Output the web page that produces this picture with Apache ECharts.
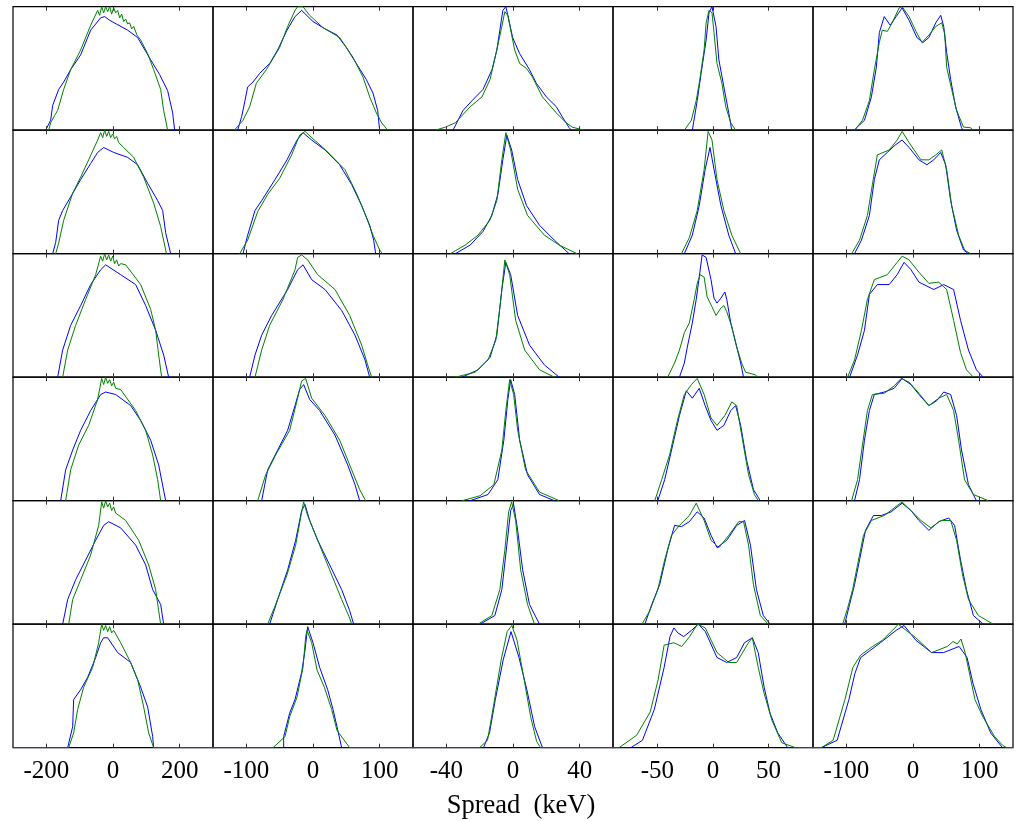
<!DOCTYPE html>
<html><head><meta charset="utf-8">
<script src="https://cdn.jsdelivr.net/npm/echarts@6/dist/echarts.min.js"></script>
<style>html,body{margin:0;padding:0;background:#fff}#c{width:1023px;height:821px}</style>
</head><body><div id="c"></div>
<script>
// ---- axis ranges and tick labels per column ----
const colRanges = [[-300,300],[-150,150],[-60,60],[-90,90],[-150,150]];
const colTicks = [[-200,0,200],[-100,0,100],[-40,0,40],[-50,0,50],[-100,0,100]];
const xTitle = 'Spread  (keV)';

// ---- column 1 ----
const b_r1c1 = [[-202,0],[-187,0.08],[-181,0.2],[-163,0.33],[-148,0.39],[-127,0.49],[-97,0.61],[-67,0.81],[-37,0.91],[-25,0.92],[-10,0.89],[10,0.86],[44,0.81],[74,0.75],[113,0.57],[140,0.45],[164,0.32],[179,0.14],[185,0]];
const g_r1c1 = [[-193,0],[-187,0.06],[-175,0.12],[-166,0.16],[-148,0.33],[-127,0.49],[-97,0.65],[-67,0.85],[-46,0.97],[-40,0.93],[-34,1.0],[-28,0.95],[-22,1.0],[-16,0.96],[-10,1.0],[-4,0.94],[2,0.99],[8,0.95],[14,0.97],[20,0.91],[26,0.94],[32,0.88],[38,0.9],[44,0.86],[50,0.87],[56,0.82],[62,0.84],[72,0.77],[83,0.73],[104,0.62],[122,0.49],[143,0.33],[152,0.16],[164,0]];
const b_r2c1 = [[-181,0],[-172,0.09],[-163,0.27],[-151,0.35],[-127,0.46],[-97,0.6],[-67,0.73],[-46,0.82],[-28,0.86],[2,0.82],[44,0.78],[74,0.72],[104,0.57],[134,0.43],[149,0.35],[158,0.17],[173,0]];
const g_r2c1 = [[-172,0],[-163,0.085],[-148,0.27],[-121,0.49],[-97,0.62],[-73,0.76],[-46,0.92],[-37,0.98],[-31,0.94],[-25,1.0],[-19,0.95],[-13,0.99],[-7,0.94],[-1,0.97],[5,0.93],[11,0.95],[17,0.9],[32,0.86],[62,0.78],[92,0.62],[122,0.41],[143,0.22],[158,0.03],[160,0]];
const b_r3c1 = [[-166,0],[-151,0.22],[-127,0.42],[-97,0.58],[-67,0.75],[-37,0.87],[-22,0.91],[23,0.83],[68,0.75],[98,0.58],[128,0.38],[152,0.18],[167,0]];
const g_r3c1 = [[-151,0],[-136,0.22],[-112,0.42],[-82,0.63],[-52,0.83],[-37,0.98],[-31,0.94],[-25,1.0],[-19,0.95],[-13,0.99],[-7,0.94],[-1,0.98],[5,0.92],[11,0.95],[17,0.9],[23,0.92],[38,0.91],[83,0.75],[113,0.55],[128,0.38],[137,0.18],[146,0]];
const b_r4c1 = [[-157,0],[-142,0.25],[-121,0.41],[-97,0.57],[-67,0.73],[-37,0.86],[-22,0.88],[8,0.86],[53,0.77],[83,0.65],[113,0.49],[137,0.29],[158,0]];
const g_r4c1 = [[-142,0],[-127,0.25],[-103,0.45],[-73,0.61],[-46,0.82],[-34,0.99],[-28,0.94],[-22,1.0],[-16,0.95],[-10,0.98],[-4,0.93],[2,0.96],[8,0.91],[23,0.9],[68,0.73],[98,0.57],[119,0.37],[134,0.17],[143,0]];
const b_r5c1 = [[-151,0],[-136,0.2],[-112,0.36],[-82,0.52],[-52,0.68],[-28,0.8],[-13,0.83],[23,0.78],[68,0.64],[98,0.48],[119,0.28],[143,0.16],[152,0]];
const g_r5c1 = [[-133,0],[-121,0.2],[-97,0.36],[-67,0.56],[-43,0.8],[-34,0.99],[-28,0.94],[-22,1.0],[-16,0.95],[-10,0.98],[-4,0.92],[2,0.95],[8,0.9],[38,0.84],[77,0.68],[107,0.48],[128,0.28],[137,0.11],[143,0]];
const b_r6c1 = [[-300,0],[-136,0],[-121,0.17],[-118,0.39],[-97,0.47],[-76,0.57],[-52,0.73],[-37,0.85],[-28,0.89],[-16,0.89],[14,0.77],[53,0.69],[83,0.49],[104,0.33],[119,0.09],[122,0],[300,0]];
const g_r6c1 = [[-300,0],[-133,0],[-118,0.12],[-106,0.31],[-88,0.49],[-61,0.65],[-43,0.85],[-34,1.0],[-28,0.95],[-22,0.99],[-16,0.94],[-10,0.98],[-4,0.93],[2,0.95],[23,0.85],[53,0.69],[74,0.55],[92,0.33],[107,0.12],[122,0],[300,0]];

// ---- column 2 ----
const b_r1c2 = [[-113,0],[-107,0.11],[-102,0.24],[-98,0.35],[-90,0.39],[-80,0.46],[-65,0.54],[-53,0.65],[-39,0.81],[-27,0.92],[-17,0.97],[0,0.88],[15,0.83],[36,0.77],[50,0.67],[65,0.54],[80,0.41],[90,0.3],[97,0.16],[100,0]];
const g_r1c2 = [[-118,0],[-105,0.08],[-95,0.19],[-85,0.38],[-70,0.49],[-50,0.67],[-38,0.84],[-27,0.97],[-23,1.0],[-15,1.0],[-5,0.93],[15,0.83],[40,0.75],[60,0.59],[75,0.43],[85,0.27],[95,0.14],[103,0.06],[112,0]];
const b_r2c2 = [[-105,0],[-98,0.15],[-87,0.35],[-77,0.43],[-57,0.6],[-39,0.76],[-24,0.92],[-15,0.98],[-2,0.92],[18,0.84],[40,0.72],[58,0.56],[73,0.39],[85,0.23],[91,0.11],[94,0]];
const g_r2c2 = [[-110,0],[-98,0.11],[-83,0.34],[-68,0.48],[-50,0.61],[-32,0.8],[-20,0.96],[-12,0.99],[-2,0.94],[19,0.84],[48,0.68],[66,0.48],[79,0.31],[90,0.15],[100,0.03],[104,0]];
const b_r3c2 = [[-95,0],[-87,0.18],[-77,0.34],[-62,0.5],[-38,0.71],[-23,0.87],[-15,0.91],[-2,0.79],[18,0.71],[43,0.54],[63,0.34],[78,0.14],[85,0]];
const g_r3c2 = [[-87,0],[-77,0.22],[-65,0.42],[-45,0.63],[-27,0.87],[-23,0.97],[-17,0.99],[-8,0.95],[7,0.83],[33,0.71],[55,0.5],[73,0.26],[82,0.1],[88,0]];
const b_r4c2 = [[-77,0],[-68,0.25],[-53,0.41],[-38,0.57],[-27,0.77],[-20,0.9],[-14,0.94],[-5,0.82],[10,0.73],[33,0.53],[52,0.29],[63,0.13],[70,0]];
const g_r4c2 = [[-83,0],[-71,0.21],[-56,0.37],[-35,0.57],[-24,0.81],[-17,0.97],[-11,0.99],[-2,0.83],[18,0.69],[40,0.49],[58,0.25],[70,0.09],[79,0]];
const b_r5c2 = [[-65,0],[-53,0.2],[-38,0.44],[-26,0.68],[-17,0.92],[-12,0.97],[-5,0.84],[7,0.68],[25,0.48],[43,0.28],[55,0.11],[61,0]];
const g_r5c2 = [[-68,0],[-56,0.16],[-39,0.4],[-26,0.64],[-18,0.88],[-14,0.99],[-8,0.88],[7,0.68],[25,0.44],[43,0.2],[55,0.05],[58,0]];
const b_r6c2 = [[-150,0],[-44,0],[-44,0.09],[-35,0.28],[-27,0.39],[-17,0.61],[-12,0.79],[-8,0.98],[0,0.85],[10,0.65],[22,0.47],[30,0.31],[36,0.17],[43,0],[150,0]];
const g_r6c2 = [[-150,0],[-60,0],[-42,0.09],[-35,0.25],[-24,0.41],[-15,0.65],[-11,0.9],[-9,0.95],[-2,0.85],[6,0.63],[17,0.49],[28,0.31],[36,0.14],[55,0],[150,0]];

// ---- column 3 ----
const b_r1c3 = [[-36,0],[-30,0.16],[-24.5,0.24],[-18,0.33],[-12.6,0.49],[-9.7,0.65],[-7.9,0.81],[-6.1,0.97],[-4.3,1.0],[-3.1,0.93],[-0.2,0.75],[4,0.62],[9.9,0.49],[14,0.38],[20,0.27],[26,0.19],[29.5,0.11],[33.7,0.02],[35,0]];
const g_r1c3 = [[-46.5,0],[-40.6,0.025],[-34.6,0.06],[-25.7,0.19],[-18.6,0.27],[-13.8,0.41],[-9.7,0.65],[-6.7,0.84],[-4.9,0.96],[-3.1,0.93],[1,0.65],[4,0.54],[8.1,0.5],[11.7,0.43],[17.6,0.27],[26,0.14],[31.9,0.06],[35.5,0.025],[42.6,0]];
const b_r2c3 = [[-34.6,0],[-25.7,0.07],[-18,0.18],[-12.7,0.31],[-9.1,0.48],[-6.1,0.76],[-3.7,0.96],[-0.8,0.84],[2.8,0.6],[8.1,0.39],[15.9,0.23],[24.8,0.11],[33.7,0]];
const g_r2c3 = [[-37.6,0],[-28.7,0.07],[-21,0.15],[-13.9,0.27],[-9.7,0.43],[-6.7,0.76],[-4.3,0.98],[-1.4,0.84],[2.8,0.52],[8.7,0.31],[18.8,0.15],[27.7,0.07],[38.4,0]];
const b_r3c3 = [[-30.5,0],[-21,0.06],[-13.8,0.16],[-9.7,0.34],[-6.7,0.71],[-4.3,0.93],[-1.4,0.83],[2.8,0.5],[9.9,0.26],[18.8,0.1],[27.7,0]];
const g_r3c3 = [[-34.6,0],[-22.8,0.04],[-15,0.14],[-10.3,0.3],[-7.3,0.63],[-4.9,0.95],[-2,0.83],[1.6,0.46],[7,0.22],[15.9,0.06],[24.8,0]];
const b_r4c3 = [[-25.7,0],[-15,0.05],[-9.1,0.17],[-5.5,0.49],[-3.1,0.82],[-1.4,0.98],[1,0.86],[4,0.49],[8.7,0.21],[15.9,0.05],[24.8,0]];
const g_r4c3 = [[-30.5,0],[-19.8,0.04],[-11.5,0.13],[-6.7,0.41],[-4.3,0.73],[-2,0.98],[0.4,0.86],[2.8,0.57],[7.5,0.25],[15.9,0.07],[27.7,0]];
const b_r5c3 = [[-19.8,0],[-10.9,0.07],[-6.7,0.28],[-3.7,0.64],[-1.4,0.92],[0.4,0.97],[2.8,0.76],[5.8,0.44],[9.9,0.16],[15.9,0]];
const g_r5c3 = [[-21,0],[-12.7,0.07],[-7.9,0.28],[-4.9,0.6],[-2.6,0.91],[-0.8,0.99],[1.6,0.84],[4.6,0.44],[8.7,0.16],[12.9,0]];
const b_r6c3 = [[-60,0],[-17.7,0],[-14.1,0.12],[-10.6,0.39],[-5.9,0.71],[-1.2,0.94],[3.6,0.73],[8.3,0.47],[13,0.17],[17.7,0],[60,0]];
const g_r6c3 = [[-60,0],[-20.1,0],[-15.3,0.06],[-11.8,0.33],[-7.1,0.71],[-3.5,0.94],[-0.7,0.99],[2.4,0.87],[7.1,0.52],[10.6,0.25],[14.2,0.05],[16.6,0],[60,0]];

// ---- column 4 ----
const b_r1c4 = [[-18.6,0],[-14.2,0.24],[-10.7,0.46],[-6.2,0.73],[-3.6,0.95],[-0.9,1.0],[2.7,0.84],[5.3,0.57],[9.8,0.35],[14.2,0.14],[16.9,0]];
const g_r1c4 = [[-25.8,0],[-19.5,0.08],[-15.1,0.24],[-12.4,0.38],[-8,0.65],[-6.2,0.87],[-3.6,0.97],[-0.9,0.95],[0.9,0.79],[3.6,0.54],[8,0.38],[11.5,0.19],[16,0.06],[20.4,0]];
const b_r2c4 = [[-25.8,0],[-18.6,0.15],[-12.4,0.39],[-7.1,0.68],[-2.7,0.86],[1.8,0.64],[7.1,0.39],[14.2,0.15],[20.4,0]];
const g_r2c4 = [[-28.4,0],[-21.3,0.13],[-14.2,0.35],[-8,0.68],[-4.4,0.99],[-0.9,0.92],[3.6,0.6],[9.8,0.35],[16.9,0.15],[24.9,0]];
const b_r3c4 = [[-30.2,0],[-25.8,0.115],[-23.1,0.245],[-18.6,0.44],[-15.1,0.63],[-12.4,0.81],[-9.8,0.99],[-6.2,0.97],[-1.8,0.79],[0.9,0.64],[3.6,0.6],[7.1,0.64],[10.7,0.69],[12.4,0.63],[16,0.44],[20.4,0.28],[24.9,0.115],[27.5,0]];
const g_r3c4 = [[-40.8,0],[-34.6,0.115],[-30.2,0.22],[-25.8,0.36],[-21.3,0.44],[-16.9,0.63],[-14.2,0.76],[-11.5,0.83],[-8,0.81],[-5.3,0.65],[-0.9,0.57],[2.7,0.5],[7.1,0.56],[9.8,0.58],[12.4,0.53],[16.9,0.41],[21.3,0.245],[25.8,0.115],[29.3,0.04],[38.2,0.02],[40,0]];
const b_r4c4 = [[-49.7,0],[-43.5,0.17],[-37.3,0.41],[-30.2,0.69],[-24,0.89],[-18.6,0.83],[-12.4,0.91],[-7.1,0.77],[-1.8,0.65],[3.6,0.57],[9.8,0.61],[16,0.73],[20.4,0.77],[24.9,0.61],[30.2,0.33],[36.4,0.09],[42.6,0]];
const g_r4c4 = [[-52.4,0],[-46.2,0.17],[-39.1,0.37],[-32,0.65],[-25.8,0.86],[-19.5,0.94],[-14.2,0.99],[-8,0.86],[-1.8,0.67],[3.6,0.61],[10.7,0.69],[16.9,0.8],[21.3,0.77],[26.6,0.49],[32,0.21],[37.3,0.05],[40.8,0]];
const b_r5c4 = [[-61.3,0],[-55.1,0.16],[-48,0.32],[-40.8,0.6],[-34.6,0.8],[-28.4,0.79],[-21.3,0.83],[-14.2,0.91],[-8,0.86],[-1.8,0.72],[3.6,0.62],[12.4,0.68],[21.3,0.8],[28.4,0.84],[33.7,0.64],[39.1,0.28],[45.3,0.07],[51.5,0]];
const g_r5c4 = [[-63.9,0],[-56.8,0.11],[-49.7,0.28],[-43.5,0.52],[-37.3,0.72],[-30.2,0.8],[-21.3,0.88],[-15.1,0.98],[-8,0.84],[-1.8,0.68],[5.3,0.62],[14.2,0.72],[23.1,0.83],[27.5,0.83],[32,0.64],[36.4,0.32],[42.6,0.07],[49.7,0]];
const b_r6c4 = [[-90,0],[-74,0],[-63.5,0.06],[-52.8,0.31],[-44,0.65],[-38.7,0.9],[-35.2,0.97],[-31.7,0.93],[-26.4,0.9],[-19.4,0.95],[-13.3,1.0],[-6.9,0.94],[3.6,0.73],[12.4,0.69],[21.3,0.73],[28.3,0.85],[35.4,0.89],[40.7,0.77],[46,0.49],[51.3,0.28],[58.3,0.12],[67.2,0],[90,0]];
const g_r6c4 = [[-90,0],[-84.6,0],[-68.8,0.1],[-56.5,0.29],[-49.4,0.55],[-44,0.83],[-35.2,0.85],[-28.1,0.82],[-21,0.9],[-14,1.0],[-6.9,0.97],[3.6,0.77],[14.2,0.69],[21.3,0.69],[31.9,0.85],[35.4,0.89],[40.7,0.65],[46,0.44],[53.1,0.22],[61.9,0.04],[74.2,0],[90,0]];

// ---- column 5 ----
const b_r1c5 = [[-87,0],[-84.7,0.02],[-72.8,0.08],[-62.4,0.27],[-55,0.51],[-50.5,0.79],[-43.1,0.92],[-34.2,0.85],[-25.3,0.92],[-16.3,0.99],[-5.9,0.89],[5.9,0.75],[14.9,0.71],[23.8,0.75],[34.2,0.87],[41.6,0.93],[46.1,0.84],[50.5,0.63],[56.5,0.41],[63.9,0.19],[72.8,0.02],[75,0]];
const g_r1c5 = [[-87.7,0],[-75.8,0.08],[-65.4,0.24],[-58,0.49],[-50.5,0.71],[-46.1,0.81],[-38.6,0.8],[-31.2,0.87],[-20.8,0.99],[-16.3,1.0],[-5.9,0.92],[4.5,0.8],[13.4,0.71],[23.8,0.77],[34.2,0.84],[43.1,0.87],[47.6,0.78],[50.5,0.51],[58,0.33],[65.4,0.16],[75.8,0.025],[86.2,0.02],[90.6,0]];
const b_r2c5 = [[-87.7,0],[-77.3,0.11],[-65.4,0.31],[-58,0.6],[-50.5,0.76],[-38.6,0.82],[-26.7,0.88],[-16.3,0.92],[-5.9,0.86],[8.9,0.76],[20.8,0.72],[31.2,0.76],[41.6,0.82],[49,0.72],[56.5,0.43],[65.4,0.19],[75.8,0.03],[83.2,0]];
const g_r2c5 = [[-92.1,0],[-80.2,0.11],[-68.4,0.31],[-60.9,0.56],[-53.5,0.8],[-35.7,0.84],[-23.8,0.92],[-16.3,0.99],[-5.9,0.9],[11.9,0.76],[23.8,0.76],[34.2,0.8],[43.1,0.84],[50.5,0.68],[58,0.39],[68.4,0.15],[77.3,0.03],[86.2,0]];
const b_r3c5 = [[-95.1,0],[-83.2,0.18],[-72.8,0.38],[-65.4,0.67],[-53.5,0.75],[-35.7,0.75],[-23.8,0.83],[-13.4,0.93],[-3,0.87],[8.9,0.77],[31.2,0.71],[46.1,0.75],[60.9,0.71],[71.3,0.46],[83.2,0.22],[95.1,0.06],[105.5,0]];
const g_r3c5 = [[-98.1,0],[-87.7,0.14],[-77.3,0.38],[-68.4,0.63],[-58,0.79],[-38.6,0.83],[-23.8,0.93],[-16.3,0.98],[-5.9,0.95],[8.9,0.85],[23.8,0.76],[38.6,0.77],[50.5,0.71],[60.9,0.46],[71.3,0.2],[80.2,0.06],[90.6,0]];
const b_r4c5 = [[-87.7,0],[-80.2,0.17],[-72.8,0.49],[-65.4,0.73],[-58,0.86],[-43.1,0.88],[-28.2,0.91],[-16.3,0.99],[-3,0.94],[8.9,0.86],[23.8,0.77],[35.7,0.81],[46.1,0.88],[56.5,0.86],[65.4,0.69],[72.8,0.41],[83.2,0.13],[95.1,0]];
const g_r4c5 = [[-92.1,0],[-83.2,0.17],[-75.8,0.45],[-68.4,0.73],[-60.9,0.86],[-43.1,0.87],[-28.2,0.93],[-17.8,0.99],[-5.9,0.96],[8.9,0.87],[23.8,0.77],[38.6,0.83],[50.5,0.86],[60.9,0.73],[68.4,0.49],[77.3,0.17],[90.6,0.05],[112.9,0]];
const b_r5c5 = [[-102.5,0],[-95.1,0.16],[-87.7,0.32],[-80.2,0.52],[-71.3,0.76],[-59.4,0.88],[-47.6,0.88],[-32.7,0.91],[-16.3,0.98],[-3,0.92],[8.9,0.84],[23.8,0.76],[38.6,0.83],[53.5,0.86],[62.4,0.8],[71.3,0.52],[80.2,0.28],[90.6,0.07],[105.5,0]];
const g_r5c5 = [[-105.5,0],[-98.1,0.13],[-90.6,0.28],[-83.2,0.48],[-74.3,0.72],[-62.4,0.84],[-43.1,0.88],[-23.8,0.96],[-16.3,0.99],[-3,0.92],[11.9,0.84],[26.8,0.78],[41.6,0.84],[56.5,0.84],[65.4,0.68],[74.3,0.4],[83.2,0.2],[98.1,0.07],[120.4,0]];
const b_r6c5 = [[-150,0],[-137.5,0],[-113.8,0.06],[-96.1,0.39],[-87.2,0.6],[-78.5,0.73],[-63.6,0.79],[-48.9,0.85],[-25.3,0.95],[-13.4,0.99],[4.3,0.87],[27.9,0.77],[45.6,0.77],[69.2,0.82],[81.1,0.73],[90,0.52],[101.8,0.31],[116.5,0.12],[134.3,0],[150,0]];
const g_r6c5 = [[-150,0],[-137.5,0],[-119.8,0.06],[-102.1,0.39],[-90.2,0.65],[-78.5,0.75],[-60.6,0.82],[-45.9,0.87],[-25.3,0.98],[-22.3,1.0],[4.3,0.89],[27.9,0.77],[51.6,0.82],[60,0.86],[66.3,0.84],[72,0.88],[78.2,0.77],[92.9,0.39],[104.8,0.25],[122.4,0.09],[134.3,0.02],[140.3,0],[150,0]];

const blueRows = [
  [b_r1c1,b_r1c2,b_r1c3,b_r1c4,b_r1c5],
  [b_r2c1,b_r2c2,b_r2c3,b_r2c4,b_r2c5],
  [b_r3c1,b_r3c2,b_r3c3,b_r3c4,b_r3c5],
  [b_r4c1,b_r4c2,b_r4c3,b_r4c4,b_r4c5],
  [b_r5c1,b_r5c2,b_r5c3,b_r5c4,b_r5c5],
  [b_r6c1,b_r6c2,b_r6c3,b_r6c4,b_r6c5]
];
const greenRows = [
  [g_r1c1,g_r1c2,g_r1c3,g_r1c4,g_r1c5],
  [g_r2c1,g_r2c2,g_r2c3,g_r2c4,g_r2c5],
  [g_r3c1,g_r3c2,g_r3c3,g_r3c4,g_r3c5],
  [g_r4c1,g_r4c2,g_r4c3,g_r4c4,g_r4c5],
  [g_r5c1,g_r5c2,g_r5c3,g_r5c4,g_r5c5],
  [g_r6c1,g_r6c2,g_r6c3,g_r6c4,g_r6c5]
];

// ---- layout ----
const L0 = 13, T0 = 6.7, W = 200, H = 123.5, NR = 6, NC = 5;
const FONT = 'Liberation Serif';
const grids = [], xAxes = [], yAxes = [], series = [];
for (let r = 0; r < NR; r++) {
  for (let c = 0; c < NC; c++) {
    const gi = r * NC + c;
    grids.push({left: L0 + W * c, top: T0 + H * r, width: W, height: H,
      show: true, borderColor: '#000', borderWidth: 1.2, backgroundColor: 'transparent'});
    const tickCommon = {show: true, inside: true, length: 4, customValues: colTicks[c],
      lineStyle: {color: '#333', width: 1}};
    xAxes.push({type: 'value', gridIndex: gi, position: 'bottom', min: colRanges[c][0], max: colRanges[c][1],
      axisLine: {show: false}, splitLine: {show: false}, axisTick: tickCommon, z: 5,
      axisLabel: {show: r === NR - 1, customValues: colTicks[c], margin: 11,
        fontFamily: FONT, fontSize: 25, color: '#000', formatter: v => String(v)}});
    xAxes.push({type: 'value', gridIndex: gi, position: 'top', min: colRanges[c][0], max: colRanges[c][1],
      axisLine: {show: false}, splitLine: {show: false}, axisTick: tickCommon, z: 5,
      axisLabel: {show: false, customValues: colTicks[c]}});
    yAxes.push({type: 'value', gridIndex: gi, min: 0, max: 1, show: false});
    series.push({type: 'line', xAxisIndex: gi * 2, yAxisIndex: gi, data: blueRows[r][c],
      showSymbol: false, symbol: 'none', lineStyle: {color: '#0000ff', width: 1}, z: 3});
    series.push({type: 'line', xAxisIndex: gi * 2, yAxisIndex: gi, data: greenRows[r][c],
      showSymbol: false, symbol: 'none', lineStyle: {color: '#008000', width: 1}, z: 4});
  }
}

const chart = echarts.init(document.getElementById('c'), null, {renderer: 'canvas'});
chart.setOption({
  animation: false,
  backgroundColor: '#fff',
  grid: grids, xAxis: xAxes, yAxis: yAxes, series: series,
  graphic: [{type: 'text', x: 521, y: 806,
    style: {text: xTitle, fontFamily: FONT, fontSize: 26.5, fill: '#000',
      textAlign: 'center', textVerticalAlign: 'middle'}}]
});
</script></body></html>
